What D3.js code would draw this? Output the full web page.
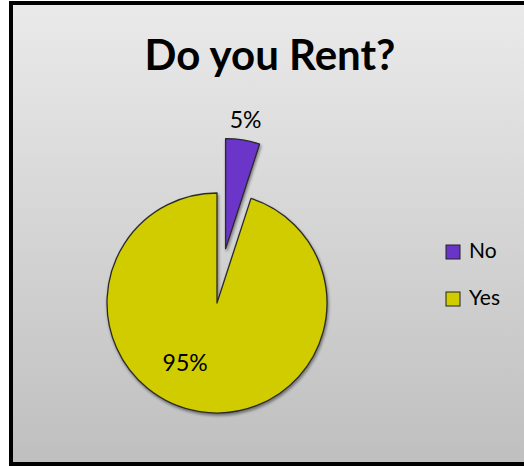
<!DOCTYPE html>
<html>
<head>
<meta charset="utf-8">
<script src="https://cdn.jsdelivr.net/npm/d3@7"></script>
<style>
  body { margin: 0; background: #fff; }
  text { font-family: Lato, "Noto Sans", sans-serif; }
</style>
</head>
<body>
<div id="viz"></div>
<script>
const categories = ["No", "Yes"]
const values = [5, 95]
const labels = ["5%", "95%"]
const colors = ["#6a34c8", "#d0cc00"]

const width = 524
const height = 466

const svg = d3.select("#viz").append("svg").attr("width", width).attr("height", height)

const defs = svg.append("defs")
const grad = defs.append("linearGradient").attr("id", "bg").attr("x1", 0).attr("y1", 0).attr("x2", 0).attr("y2", 1)
grad.append("stop").attr("offset", "0%").attr("stop-color", "#eaeaea")
grad.append("stop").attr("offset", "100%").attr("stop-color", "#bfbfbf")

const shadow = defs.append("filter").attr("id", "shadow").attr("x", "-20%").attr("y", "-20%").attr("width", "140%").attr("height", "140%")
shadow.append("feDropShadow").attr("dx", 1).attr("dy", 2).attr("stdDeviation", 1.5).attr("flood-color", "#000").attr("flood-opacity", 0.45)

// chart area with border (right edge is cut off by the window)
svg.append("rect")
  .attr("x", 11).attr("y", 3)
  .attr("width", 530).attr("height", 461)
  .attr("fill", "url(#bg)")
  .attr("stroke", "#000").attr("stroke-width", 4)

svg.append("text")
  .attr("x", 270).attr("y", 70)
  .attr("text-anchor", "middle")
  .style("font-size", "42px").style("font-weight", "bold")
  .text("Do you Rent?")

const cx = 217, cy = 303, r = 110
const explode = [55, 0]

const pie = d3.pie().sort(null).value(d => d)
const arcs = pie(values)
const arc = d3.arc().innerRadius(0).outerRadius(r)

const g = svg.append("g").attr("transform", `translate(${cx},${cy})`)

const slices = g.selectAll("g.slice")
  .data(arcs)
  .join("g")
  .attr("class", "slice")
  .attr("transform", (d, i) => {
    const mid = (d.startAngle + d.endAngle) / 2
    return `translate(${explode[i] * Math.sin(mid)},${-explode[i] * Math.cos(mid)})`
  })

slices.append("path")
  .attr("d", arc)
  .attr("fill", (d, i) => colors[i])
  .attr("stroke", "#2a2a2a")
  .attr("stroke-width", 1.3)
  .attr("stroke-linejoin", "round")
  .attr("filter", "url(#shadow)")

// data labels: No outside the slice, Yes inside toward lower left (as Excel placed it)
const labelRadius = [r + 18, 70]
const labelAngle = [d => (d.startAngle + d.endAngle) / 2, d => d.startAngle + 3.3]
slices.append("text")
  .attr("x", (d, i) => labelRadius[i] * Math.sin(labelAngle[i](d)))
  .attr("y", (d, i) => -labelRadius[i] * Math.cos(labelAngle[i](d)))
  .attr("text-anchor", "middle")
  .attr("dominant-baseline", "middle")
  .style("font-size", "23px")
  .text((d, i) => labels[i])

// legend
const legendY = d3.scalePoint().domain(categories).range([252, 299])
const legend = svg.append("g").selectAll("g")
  .data(categories)
  .join("g")
  .attr("transform", d => `translate(446,${legendY(d)})`)

legend.append("rect")
  .attr("x", 0).attr("y", -7)
  .attr("width", 14).attr("height", 14)
  .attr("fill", (d, i) => colors[i])
  .attr("stroke", "#222").attr("stroke-width", 1)

legend.append("text")
  .attr("x", 23).attr("y", 1)
  .attr("dominant-baseline", "middle")
  .style("font-size", "21px")
  .text(d => d)
</script>
</body>
</html>
